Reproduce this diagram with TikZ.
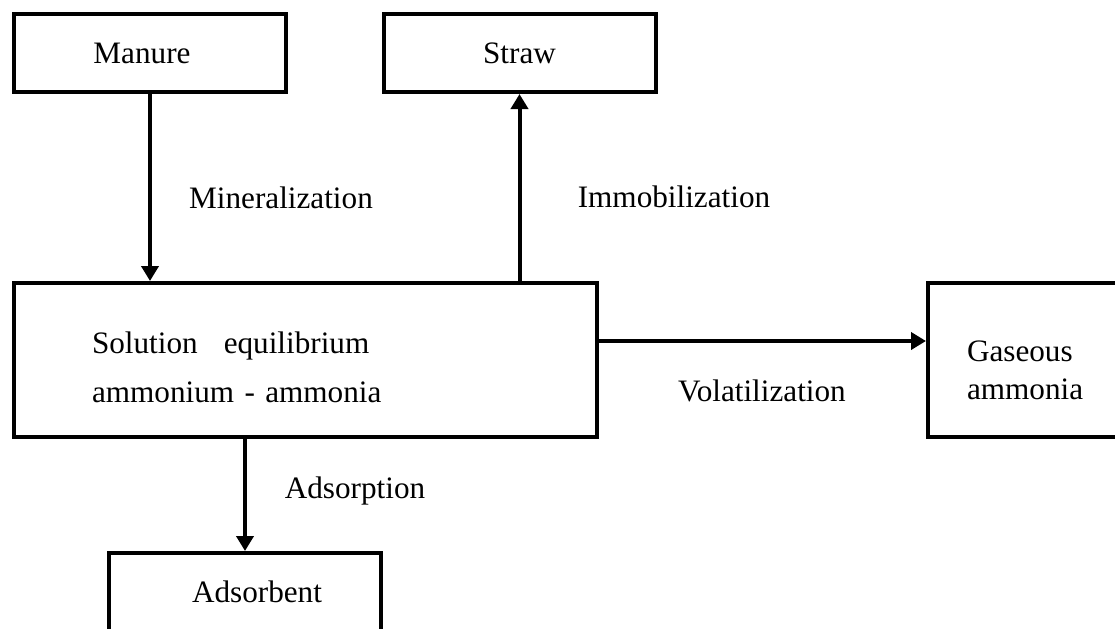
\documentclass[tikz,border=0pt]{standalone}
\usepackage{fontspec}
\setmainfont{Liberation Serif}
\usetikzlibrary{arrows.meta}

\begin{document}
\begin{tikzpicture}[x=0.5pt,y=-0.5pt]
        % Styles pour les boites et les fleches
        \tikzstyle{boite} = [draw, line width=2pt, minimum width=136pt, minimum height=39pt, inner sep=0pt, font=\fontsize{15.6}{19}\selectfont]
        \tikzstyle{fleche} = [line width=2pt, -{Triangle[length=7.5pt,width=8.5pt]}]
        \tikzstyle{etiquette} = [anchor=base, inner sep=0pt, font=\fontsize{15.6}{19}\selectfont]

        % Cadre de l'image
        \useasboundingbox (0,0) rectangle (1115,628);
        \clip (0,0) rectangle (1115,628);

        % Boites du haut
        \node[boite] (manure) at (150,53) {\hspace*{-8pt}Manure};
        \node[boite] (straw) at (519.5,53) {Straw};

        % Boite centrale et ammoniac gazeux
        \node[boite, minimum width=291.5pt, minimum height=77pt, text width=213.5pt, inner xsep=39pt, align=left, font=\fontsize{15.6}{24.5}\selectfont] (sol) at (305.5,360) {\rule{0pt}{18pt}Solution\hspace{13pt}equilibrium\\ammonium - ammonia};
        \node[boite, minimum height=77pt, text width=97pt, inner xsep=19.5pt, align=left] (gas) at (1064,360) {\rule{0pt}{21pt}Gaseous\\ammonia};

        % Boite du bas
        \node[boite] (ads) at (245,592) {\hspace*{12pt}Adsorbent};

        % Fleches entre les boites
        \draw[fleche] (manure.south) -- (manure.south |- sol.north);   % manure -> solution
        \draw[fleche] (straw.south |- sol.north) -- (straw.south);     % solution -> straw
        \draw[fleche] ([yshift=9.5pt]sol.east) -- ([yshift=9.5pt]sol.east -| gas.west); % solution -> gaz
        \draw[fleche] (sol.south -| ads.north) -- (ads.north);         % solution -> adsorbant

        % Etiquettes des processus
        \node[etiquette] (lmin) at (281,208) {Mineralization};
        \node[etiquette] (limm) at (674,207) {Immobilization};
        \node[etiquette] (lvol) at (762,401) {Volatilization};
        \node[etiquette] (lads) at (355,498) {Adsorption};

\end{tikzpicture}
\end{document}
